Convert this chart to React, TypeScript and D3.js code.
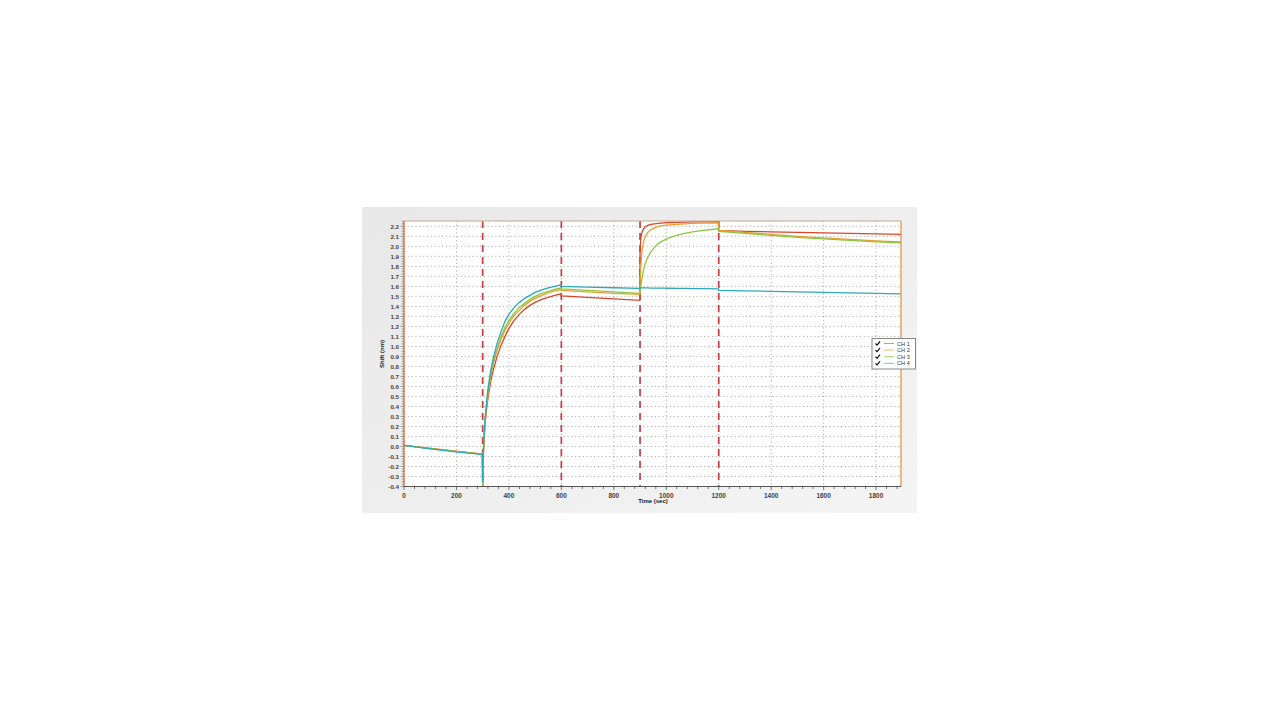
import React from "react";
import * as d3 from "d3";

const times = [0, 100, 200, 299, 300, 301, 303, 306, 310, 315, 320, 330, 340, 355, 370, 385, 400, 420, 440, 460, 480, 500, 525, 550, 575, 599, 600, 700, 800, 899, 900, 903, 906, 910, 915, 920, 930, 940, 955, 970, 990, 1010, 1040, 1070, 1100, 1140, 1199, 1200, 1300, 1400, 1500, 1600, 1700, 1800, 1895];

const ch1 = [0.01, -0.02, -0.05, -0.075, -0.4, -0.3, -0.05, 0.1, 0.25, 0.38, 0.48, 0.64, 0.76, 0.9, 1.01, 1.1, 1.18, 1.26, 1.32, 1.37, 1.41, 1.44, 1.47, 1.49, 1.51, 1.525, 1.505, 1.49, 1.475, 1.46, 1.95, 2.08, 2.13, 2.16, 2.18, 2.195, 2.21, 2.22, 2.225, 2.23, 2.235, 2.238, 2.24, 2.242, 2.244, 2.245, 2.246, 2.16, 2.15, 2.145, 2.14, 2.135, 2.13, 2.125, 2.12];
const ch2 = [0.01, -0.02, -0.05, -0.075, -0.4, -0.3, -0.04, 0.12, 0.27, 0.41, 0.52, 0.69, 0.82, 0.96, 1.07, 1.16, 1.23, 1.31, 1.36, 1.41, 1.45, 1.48, 1.51, 1.535, 1.555, 1.57, 1.56, 1.545, 1.53, 1.52, 1.6, 1.8, 1.92, 2.0, 2.06, 2.1, 2.14, 2.165, 2.185, 2.2, 2.21, 2.215, 2.22, 2.225, 2.23, 2.232, 2.235, 2.16, 2.14, 2.12, 2.1, 2.085, 2.07, 2.055, 2.045];
const ch3 = [0.01, -0.022, -0.052, -0.078, -0.38, -0.2, -0.03, 0.13, 0.28, 0.42, 0.54, 0.71, 0.84, 0.98, 1.1, 1.19, 1.26, 1.33, 1.39, 1.43, 1.47, 1.5, 1.53, 1.55, 1.57, 1.585, 1.575, 1.56, 1.545, 1.53, 1.55, 1.6, 1.66, 1.72, 1.78, 1.83, 1.89, 1.94, 1.99, 2.03, 2.06, 2.085, 2.11, 2.13, 2.145, 2.16, 2.175, 2.15, 2.13, 2.11, 2.09, 2.075, 2.06, 2.045, 2.035];
const ch4 = [0.01, -0.025, -0.055, -0.08, -0.36, -0.15, -0.02, 0.15, 0.3, 0.45, 0.57, 0.75, 0.88, 1.03, 1.15, 1.25, 1.32, 1.39, 1.44, 1.48, 1.51, 1.54, 1.565, 1.585, 1.6, 1.615, 1.6, 1.592, 1.586, 1.58, 1.585, 1.585, 1.585, 1.585, 1.585, 1.584, 1.584, 1.583, 1.583, 1.582, 1.582, 1.581, 1.58, 1.579, 1.578, 1.577, 1.575, 1.56, 1.555, 1.55, 1.545, 1.54, 1.535, 1.53, 1.525];

const seriesNames = ["CH 1", "CH 2", "CH 3", "CH 4"];
const seriesColors = ["#d9452b", "#e8a030", "#8cc640", "#2ea8b8"];
const legendColors = ["#ee8a7a", "#eec27a", "#a8d47a", "#7ccad4"];
const seriesValues = [ch1, ch2, ch3, ch4];

const injectionTimes = [300, 600, 900, 1200];
const xTickLabels = [0, 200, 400, 600, 800, 1000, 1200, 1400, 1600, 1800];
const yTickValues = d3.range(-4, 23).map((d) => d / 10);

export default function App() {
  const left = 404, right = 901, top = 221, bottom = 486.5;
  const x = d3.scaleLinear().domain([0, 1895]).range([left, right]);
  const y = d3.scaleLinear().domain([-0.4, 2.253]).range([bottom, top]);
  const line = d3
    .line<number>()
    .x((_, i) => x(times[i]))
    .y((d) => y(d))
    .curve(d3.curveLinear);

  const minorX = d3.range(0, 1895, 40);
  const minorY = d3.range(-16, 91).map((d) => d * 0.025);
  const font = "'Liberation Sans', Arial, sans-serif";

  return (
    <svg width={1280} height={720} style={{ position: "absolute", left: 0, top: 0, background: "#fff" }}>
      <defs>
        <linearGradient id="bg" x1="0" y1="0" x2="1" y2="1">
          <stop offset="0" stopColor="#e8e8e8" />
          <stop offset="1" stopColor="#f4f4f4" />
        </linearGradient>
        <clipPath id="plot">
          <rect x={left} y={top} width={right - left} height={bottom - top} />
        </clipPath>
      </defs>
      <rect x={362} y={207} width={555} height={306} fill="url(#bg)" />
      <rect x={left} y={top} width={right - left} height={bottom - top} fill="#fff" />

      {/* grid */}
      {yTickValues.map((v) => (
        <line key={"gy" + v} x1={left} x2={right} y1={y(v)} y2={y(v)} stroke="#9a9a9a" strokeWidth={0.8} strokeDasharray="1.2,2.6" />
      ))}
      {xTickLabels.filter((t) => t > 0).map((t) => (
        <line key={"gx" + t} x1={x(t)} x2={x(t)} y1={top} y2={bottom} stroke="#9a9a9a" strokeWidth={0.8} strokeDasharray="1.2,2.6" />
      ))}

      {/* injection markers */}
      {injectionTimes.map((t) => (
        <line key={"inj" + t} x1={x(t)} x2={x(t)} y1={top} y2={bottom} stroke="#d03a40" strokeWidth={1.7} strokeDasharray="7,5" />
      ))}

      {/* data */}
      <g clipPath="url(#plot)">
        {seriesValues.map((vals, i) => (
          <path key={seriesNames[i]} d={line(vals) || ""} fill="none" stroke={seriesColors[i]} strokeWidth={1.3} />
        ))}
      </g>

      {/* frame */}
      <line x1={left} x2={right} y1={top} y2={top} stroke="#c9a88a" strokeWidth={1} />
      <line x1={right} x2={right} y1={top} y2={bottom} stroke="#e0903a" strokeWidth={1.2} />
      <line x1={left} x2={left} y1={top} y2={bottom} stroke="#e07040" strokeWidth={1.4} />
      <line x1={left} x2={right} y1={bottom} y2={bottom} stroke="#555" strokeWidth={1} />

      {/* x ticks */}
      {minorX.map((t) => (
        <line key={"mx" + t} x1={x(t)} x2={x(t)} y1={bottom} y2={bottom + (t % 200 === 0 ? 3.5 : 2.5)} stroke="#555" strokeWidth={0.8} />
      ))}
      {xTickLabels.map((t) => (
        <text key={"xl" + t} x={x(t)} y={bottom + 11} textAnchor="middle" fontFamily={font} fontSize={6.5} fontWeight="bold" fill="#444">
          {t}
        </text>
      ))}
      <text x={653} y={502.5} textAnchor="middle" fontFamily={font} fontSize={6} fontWeight="bold" fill="#222">
        Time (sec)
      </text>

      {/* y ticks */}
      {minorY.map((v, i) => (
        <line key={"my" + i} x1={left - (i % 4 === 0 ? 3.5 : 2.2)} x2={left} y1={y(v)} y2={y(v)} stroke="#666" strokeWidth={0.6} />
      ))}
      {yTickValues.map((v) => (
        <text key={"yl" + v} x={399} y={y(v) + 2.2} textAnchor="end" fontFamily={font} fontSize={6.2} fontWeight="bold" fill="#444">
          {v.toFixed(1)}
        </text>
      ))}
      <text transform={`translate(383.5, 354) rotate(-90)`} textAnchor="middle" fontFamily={font} fontSize={6} fontWeight="bold" fill="#222">
        Shift (nm)
      </text>

      {/* legend */}
      <g>
        <rect x={872} y={338.5} width={43.5} height={30.5} fill="#fff" stroke="#888" strokeWidth={1} />
        {seriesNames.map((n, i) => {
          const yy = 343.5 + i * 6.6;
          return (
            <g key={"lg" + n}>
              <path d={`M${875.5},${yy} l1.5,1.6 l3,-3.6`} fill="none" stroke="#111" strokeWidth={1.2} />
              <line x1={884} x2={894} y1={yy} y2={yy} stroke={legendColors[i]} strokeWidth={1.1} />
              <text x={897} y={yy + 2} fontFamily={font} fontSize={5.6} fill="#333">
                {n}
              </text>
            </g>
          );
        })}
      </g>
    </svg>
  );
}
